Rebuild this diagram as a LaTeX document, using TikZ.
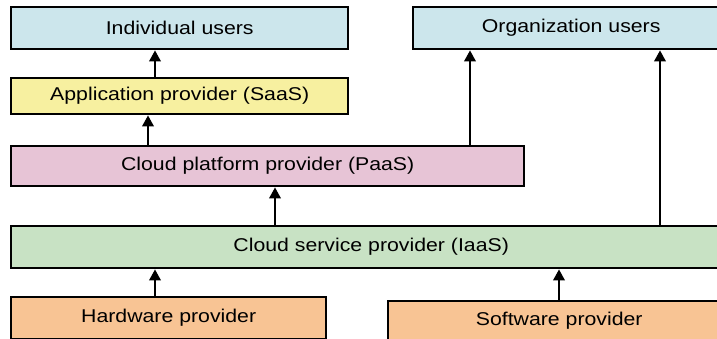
\documentclass[tikz,border=0pt]{standalone}
\usepackage{fontspec}
\setmainfont[FakeStretch=1.15]{Liberation Sans}
\usetikzlibrary{arrows.meta}
\definecolor{usercol}{RGB}{204,230,236}
\definecolor{saascol}{RGB}{247,240,160}
\definecolor{paascol}{RGB}{231,196,214}
\definecolor{iaascol}{RGB}{200,226,196}
\definecolor{provcol}{RGB}{248,196,148}
\tikzset{layer/.style={draw=black, line width=2.4pt, fill=#1, anchor=north west, inner sep=0pt,
    font=\fontsize{18.5}{22}\selectfont},
  link/.style={line width=2pt, -{Triangle[width=11.5pt,length=11pt]}}}

\begin{document}
\begin{tikzpicture}[x=1pt, y=-1pt]
\useasboundingbox (0,0) rectangle (717,339);
\clip (0,0) rectangle (717,339);
\node (indiv) [layer=usercol, minimum width=337pt, minimum height=42pt] at (10,6) {Individual users};
\node (org)   [layer=usercol, minimum width=316pt, minimum height=42pt] at (412,6) {Organization users};
\node (saas)  [layer=saascol, minimum width=337pt, minimum height=36pt] at (10,77) {Application provider (SaaS)};
\node (paas)  [layer=paascol, minimum width=513pt, minimum height=40pt] at (10,145) {Cloud platform provider (PaaS)};
\node (iaas)  [layer=iaascol, minimum width=720pt, minimum height=42pt] at (10,225) {Cloud service provider (IaaS)};
\node (hw)    [layer=provcol, minimum width=315pt, minimum height=42pt] at (10,296) {Hardware provider};
\node (sw)    [layer=provcol, minimum width=342pt, minimum height=40pt] at (387,300) {Software provider};

% columns of the arrows
\coordinate (c1) at (155,0);
\coordinate (c2) at (148,0);
\coordinate (c3) at (275,0);
\coordinate (c4) at (470,0);
\coordinate (c5) at (559,0);
\coordinate (c6) at (660,0);

\draw[link] (saas.north -| c1) -- (indiv.south -| c1);
\draw[link] (paas.north -| c2) -- (saas.south -| c2);
\draw[link] (paas.north -| c4) -- (org.south -| c4);
\draw[link] (iaas.north -| c3) -- (paas.south -| c3);
\draw[link] (iaas.north -| c6) -- (org.south -| c6);
\draw[link] (hw.north -| c1) -- (iaas.south -| c1);
\draw[link] (sw.north -| c5) -- (iaas.south -| c5);
\end{tikzpicture}
\end{document}
